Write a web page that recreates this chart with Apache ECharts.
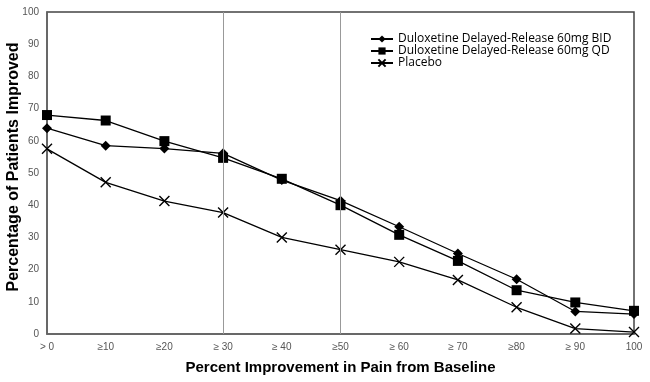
<!DOCTYPE html>
<html>
<head>
<meta charset="utf-8">
<script src="https://cdn.jsdelivr.net/npm/echarts@6/dist/echarts.min.js"></script>
<style>html,body{margin:0;padding:0;background:#fff}#c{width:650px;height:382px}</style>
</head>
<body>
<div id="c"></div>
<script>
var categories = ["> 0", "\u226510", "\u226520", "\u2265 30", "\u2265 40", "\u226550", "\u2265 60", "\u2265 70", "\u226580", "\u2265 90", "100"];
var bidValues = [63.9, 58.5, 57.6, 56.1, 47.8, 41.4, 33.3, 25.0, 17.0, 7.0, 6.2];
var qdValues = [68.0, 66.3, 59.9, 54.7, 48.2, 40.0, 30.8, 22.7, 13.6, 9.8, 7.2];
var placeboValues = [57.5, 47.1, 41.3, 37.7, 30.0, 26.2, 22.4, 16.8, 8.3, 1.7, 0.6];
var refLines = ["\u2265 30", "\u226550"];
var seriesNames = ["Duloxetine Delayed-Release 60mg BID", "Duloxetine Delayed-Release 60mg QD", "Placebo"];

var chart = echarts.init(document.getElementById('c'), null, {renderer: 'canvas'});
var xSym = 'path://M0 0L10 10M10 0L0 10';
chart.setOption({
  animation: false,
  backgroundColor: '#fff',
  grid: {left: 47, right: 16, top: 12, bottom: 48, outerBoundsMode: 'none', containLabel: false,
    show: true, borderColor: '#444', borderWidth: 1.5, backgroundColor: 'transparent'},
  legend: {
    orient: 'vertical', left: 365, top: 28, itemGap: 0, itemWidth: 22, itemHeight: 9,
    textStyle: {fontFamily: 'Open Sans', fontSize: 12, color: '#000'},
    data: seriesNames
  },
  xAxis: {
    type: 'category', data: categories, boundaryGap: false,
    name: 'Percent Improvement in Pain from Baseline', nameLocation: 'middle', nameGap: 26,
    nameTextStyle: {fontFamily: 'Liberation Sans', fontWeight: 'bold', fontSize: 15, color: '#000'},
    axisLine: {lineStyle: {color: '#666', width: 1.5}},
    axisTick: {show: false},
    axisLabel: {fontFamily: 'Liberation Sans', fontSize: 10, color: '#555', margin: 8, interval: 0},
    splitLine: {show: false}
  },
  yAxis: {
    type: 'value', min: 0, max: 100, interval: 10,
    name: 'Percentage of Patients Improved', nameLocation: 'middle', nameGap: 25, nameMoveOverlap: false,
    nameTextStyle: {fontFamily: 'Liberation Sans', fontWeight: 'bold', fontSize: 16, color: '#000', padding: [0, 0, 0, 12]},
    axisLine: {show: true, lineStyle: {color: '#666', width: 1.5}},
    axisTick: {show: false},
    axisLabel: {fontFamily: 'Liberation Sans', fontSize: 10, color: '#555', margin: 8},
    splitLine: {show: false}
  },
  series: [
    {
      name: seriesNames[0], type: 'line', data: bidValues,
      symbol: 'diamond', symbolSize: 10,
      lineStyle: {color: '#000', width: 1.3}, itemStyle: {color: '#000'},
      markLine: {
        silent: true, symbol: 'none', label: {show: false},
        lineStyle: {color: '#999', width: 1, type: 'solid'},
        data: refLines.map(function (c) { return {xAxis: c}; })
      }
    },
    {
      name: seriesNames[1], type: 'line', data: qdValues,
      symbol: 'rect', symbolSize: 10,
      lineStyle: {color: '#000', width: 1.3}, itemStyle: {color: '#000'}
    },
    {
      name: seriesNames[2], type: 'line', data: placeboValues,
      symbol: xSym, symbolSize: 10,
      lineStyle: {color: '#000', width: 1.3}, itemStyle: {color: '#000', borderColor: '#000', borderWidth: 1.4}
    }
  ]
});
</script>
</body>
</html>
